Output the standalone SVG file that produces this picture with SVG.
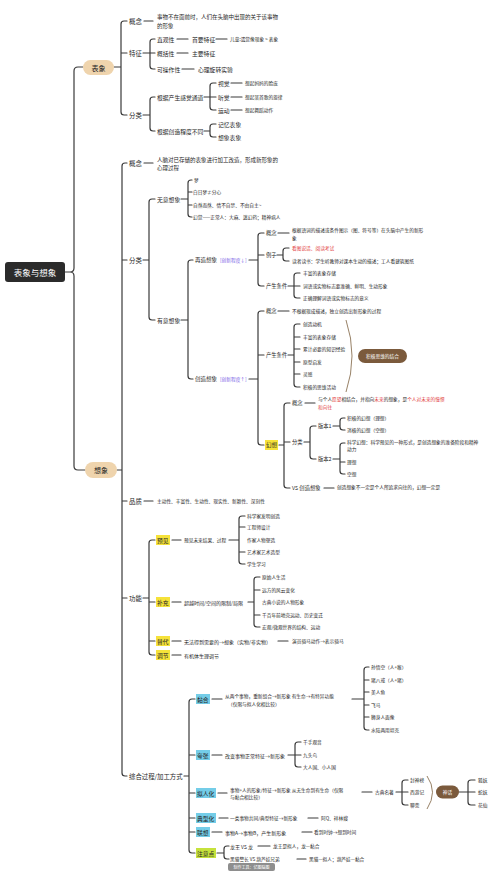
<svg xmlns="http://www.w3.org/2000/svg" width="503" height="877" viewBox="0 0 503 877">
<style>
text{font-family:"Noto Sans CJK SC","Noto Sans",sans-serif;fill:#262626;dominant-baseline:central}
.f64{font-size:6.4px}.f58{font-size:5.8px}.f55{font-size:5.5px}.f53{font-size:5.3px}.f50{font-size:5px}.f47{font-size:4.7px}
.red{fill:#e23b3b}.pur{fill:#7a62e6}.wt{fill:#fff}
.c{fill:none;stroke:#3a3a3a;stroke-width:1.2;stroke-linecap:round}
.cv{fill:none;stroke:#8b7355;stroke-width:0.9}
.yl{fill:#f6e23a}.bl{fill:#74cde8}.gr{fill:#c6e23c}
.pill{fill:#efd4ad}.br{fill:#7b5a3c}
</style>
<rect width="503" height="877" fill="#fff"/>
<g id="connectors">
<path class="c" d="M65 272 H70 Q74 272 74 268 V71 Q74 67 78 67 H83 M70 272 Q74 272 74 276 V466 Q74 470 78 470 H85"/>
<path class="c" d="M114 67 H121 M127 21 H124 Q121 21 121 24 V112 Q121 115 124 115 H127 M121 53 H127"/>
<path class="c" d="M144 21 H153 M143 53 H150 M155 39 H153 Q150 39 150 42 V66 Q150 69 153 69 H155 M150 53 H155"/>
<path class="c" d="M177 39 H188 M216 39 H227 M177 53 H188 M182 69 H194"/>
<path class="c" d="M143 115 H150 M155 97 H153 Q150 97 150 100 V128 Q150 131 153 131 H155"/>
<path class="c" d="M204 97 H210 M216 83 H213 Q210 83 210 86 V107 Q210 110 213 110 H216 M210 97 H216 M231 83 H242 M231 97 H242 M231 110 H242"/>
<path class="c" d="M204 131 H210 M216 124 H213 Q210 124 210 127 V134 Q210 137 213 137 H216"/>
<path class="c" d="M117 470 H122 M127 163 H125 Q122 163 122 166 V773 Q122 776 125 776 H127 M122 260 H127 M122 501 H127 M122 598 H127"/>
<path class="c" d="M144 163 H153 M143 260 H149 M155 199 H152 Q149 199 149 202 V317 Q149 320 152 320 H155"/>
<path class="c" d="M181 199 H188 M192 180 H191 Q188 180 188 183 V214 Q188 217 191 217 H192 M188 192 H192 M188 205 H192"/>
<path class="c" d="M181 320 H188 M193 260 H191 Q188 260 188 263 V376 Q188 379 191 379 H193"/>
<path class="c" d="M249 260 H258 M264 233 H261 Q258 233 258 236 V283 Q258 286 261 286 H264 M258 255 H264 M278 233 H289"/>
<path class="c" d="M277 255 H283 M289 248 H286 Q283 248 283 251 V258 Q283 261 286 261 H289"/>
<path class="c" d="M288 286 H294 M300 273 H297 Q294 273 294 276 V295 Q294 298 297 298 H300 M294 286 H300"/>
<path class="c" d="M249 379 H258 M264 311 H261 Q258 311 258 314 V442 Q258 445 261 445 H264 M258 355 H264 M278 311 H289"/>
<path class="c" d="M288 355 H294 M300 324 H297 Q294 324 294 327 V384 Q294 387 297 387 H300 M294 337 H300 M294 349 H300 M294 362 H300 M294 374 H300"/>
<path class="cv" d="M346 320 Q358 356 346 392"/>
<path class="c" d="M279 445 H284 M290 403 H287 Q284 403 284 406 V485 Q284 488 287 488 H290 M284 442 H290 M305 403 H315"/>
<path class="c" d="M304 442 H310 M316 426 H313 Q310 426 310 429 V456 Q310 459 313 459 H316"/>
<path class="c" d="M333 426 H340 M345 418 H343 Q340 418 340 421 V427 Q340 430 343 430 H345"/>
<path class="c" d="M333 459 H340 M345 443 H343 Q340 443 340 446 V471 Q340 474 343 474 H345 M340 462 H345"/>
<path class="c" d="M324 488 H334 M144 501 H153"/>
<path class="c" d="M143 598 H149 M155 540 H152 Q149 540 149 543 V652 Q149 655 152 655 H155 M149 602 H155 M149 641 H155"/>
<path class="c" d="M172 540 H181 M229 540 H239 M245 516 H242 Q239 516 239 519 V561 Q239 564 242 564 H245 M239 527 H245 M239 552 H245"/>
<path class="c" d="M172 602 H181 M248 602 H254 M260 577 H257 Q254 577 254 580 V624 Q254 627 257 627 H260 M254 590 H260 M254 615 H260"/>
<path class="c" d="M172 641 H181 M278 641 H288 M172 655 H181"/>
<path class="c" d="M184 776 H189 M195 699 H192 Q189 699 189 702 V850 Q189 853 192 853 H195 M189 755 H195 M189 793 H195 M189 818 H195 M189 832 H195"/>
<path class="c" d="M212 699 H222 M352 699 H364 M369 667 H367 Q364 667 364 670 V727 Q364 730 367 730 H369 M364 680 H369 M364 692 H369 M364 705 H369 M364 717 H369"/>
<path class="c" d="M212 755 H222 M288 755 H295 M301 742 H298 Q295 742 295 745 V764 Q295 767 298 767 H301 M295 755 H301"/>
<path class="c" d="M218 793 H227 M362 792 H372 M396 792 H402 M408 780 H405 Q402 780 402 783 V802 Q402 805 405 805 H408 M402 792 H408"/>
<path class="cv" d="M427 776 Q438 792 427 809"/>
<path class="c" d="M459 792 H468 M475 780 H471 Q468 780 468 783 V802 Q468 805 471 805 H475 M468 792 H475"/>
<path class="c" d="M219 818 H228 M308 818 H318 M212 832 H222 M302 832 H312"/>
<path class="c" d="M217 853 H224 M229 846 H227 Q224 846 224 849 V856 Q224 859 227 859 H229 M258 846 H270 M297 859 H306"/>
</g>
<g id="root"><rect x="5" y="262" width="60" height="20" rx="3" fill="#2b2b2b"/><text x="35" y="272" text-anchor="middle" class="wt" style="font-size:8.5px">表象与想象</text></g>
<g id="n-biaoxiang"><rect x="83" y="60" width="31" height="15" rx="7.5" class="pill"/><text x="98.5" y="67.5" text-anchor="middle" style="font-size:7px">表象</text></g>
<g id="n-bx-gainian"><text x="129" y="21" class="f64">概念</text><text x="157" y="17" class="f55">事物不在面前时，人们在头脑中出现的关于该事物</text><text x="157" y="25.5" class="f55">的形象</text></g>
<g id="n-bx-tezheng"><text x="129" y="53" class="f64">特征</text>
<text x="157" y="39" class="f58">直观性</text><text x="192" y="39" class="f58">首要特征</text><text x="230" y="39" class="f47">儿童:遗觉像现象 &gt; 表象</text>
<text x="157" y="53" class="f58">概括性</text><text x="192" y="53" class="f58">主要特征</text>
<text x="157" y="69" class="f58">可操作性</text><text x="198" y="69" class="f58">心理旋转实验</text></g>
<g id="n-bx-fenlei"><text x="129" y="115" class="f64">分类</text>
<text x="157" y="97" class="f58">根据产生感觉通道</text>
<text x="218" y="83" class="f58">视觉</text><text x="245" y="83" class="f47">想起妈妈的脸庞</text>
<text x="218" y="97" class="f58">听觉</text><text x="245" y="97" class="f47">想起某首歌的旋律</text>
<text x="218" y="110" class="f58">运动</text><text x="245" y="110" class="f47">想起舞蹈动作</text>
<text x="157" y="131" class="f58">根据创造程度不同</text>
<text x="218" y="124" class="f58">记忆表象</text><text x="218" y="137" class="f58">想象表象</text></g>
<g id="n-xiangxiang"><rect x="85" y="462" width="32" height="16" rx="8" class="pill"/><text x="101" y="470" text-anchor="middle" style="font-size:7px">想象</text></g>
<g id="n-xx-gainian"><text x="129" y="163" class="f64">概念</text><text x="157" y="159.5" class="f55">人脑对已存储的表象进行加工改造，形成新形象的</text><text x="157" y="168" class="f55">心理过程</text></g>
<g id="n-xx-fenlei"><text x="129" y="260" class="f64">分类</text></g>
<g id="n-wuyi"><text x="157" y="199" class="f58">无意想象</text>
<text x="194" y="180" class="f47">梦</text><text x="193" y="192" class="f47">白日梦≠分心</text><text x="193" y="205" class="f47">自然而然、情不自禁、不由自主~</text><text x="193" y="217" class="f47">幻觉——正常人：大麻、迷幻药；精神病人</text></g>
<g id="n-youyi"><text x="157" y="320" class="f58">有意想象</text></g>
<g id="n-zaizao"><text x="195" y="260" class="f55">再造想象</text><text x="220" y="260" class="f47 pur">[创新程度↓]</text>
<text x="266" y="233" class="f53">概念</text><text x="292" y="230" class="f47">根据语词的描述或条件图示（图、符号等）在头脑中产生的新形</text><text x="292" y="237.5" class="f47">象</text>
<text x="266" y="255" class="f53">例子</text><text x="292" y="248" class="f47 red">看图说话、阅读考试</text><text x="292" y="261" class="f47">读者读书：学生听教师对课本生动的描述；工人看建筑图纸</text>
<text x="266" y="286" class="f53">产生条件</text><text x="303" y="273" class="f47">丰富的表象存储</text><text x="303" y="286" class="f47">词语或实物标志要准确、鲜明、生动形象</text><text x="303" y="298" class="f47">正确理解词语或实物标志的意义</text></g>
<g id="n-chuangzao"><text x="195" y="379" class="f55">创造想象</text><text x="220" y="379" class="f47 pur">[创新程度↑]</text>
<text x="266" y="311" class="f53">概念</text><text x="292" y="311" class="f47">不根据现成描述，独立创造出新形象的过程</text>
<text x="266" y="355" class="f53">产生条件</text>
<text x="303" y="324" class="f47">创造动机</text><text x="303" y="337" class="f47">丰富的表象存储</text><text x="303" y="349" class="f47">累计必要的知识经验</text><text x="303" y="362" class="f47">原型启发</text><text x="303" y="374" class="f47">灵感</text><text x="303" y="387" class="f47">积极的思维活动</text>
<rect x="358" y="349" width="49" height="14" rx="7" class="br"/><text x="382.5" y="356" text-anchor="middle" class="f47 wt">积极思维的结合</text></g>
<g id="n-huanxiang"><rect x="265" y="440" width="13" height="10" class="yl"/><text x="266" y="445" class="f55">幻想</text>
<text x="292" y="403" class="f53">概念</text>
<text x="318" y="399" class="f47">与个人<tspan class="red">愿望</tspan>相结合，并指向<tspan class="red">未来</tspan>的想象，是<tspan class="red">个人对未来的憧憬</tspan></text><text x="318" y="406.5" class="f47 red">和向往</text>
<text x="292" y="442" class="f53">分类</text>
<text x="318" y="426" class="f53">版本1</text><text x="347" y="418" class="f47">积极的幻想（理想）</text><text x="347" y="430" class="f47">消极的幻想（空想）</text>
<text x="318" y="459" class="f53">版本2</text><text x="347" y="441.5" class="f47">科学幻想：科学预见的一种形式，是创造想象的准备阶段和精神</text><text x="347" y="448.5" class="f47">动力</text><text x="347" y="462" class="f47">理想</text><text x="347" y="474" class="f47">空想</text>
<text x="292" y="488" class="f53">VS 创造想象</text><text x="337" y="487" class="f47">创造想象不一定是个人所追求向往的，幻想一定是</text></g>
<g id="n-pinzhi"><text x="129" y="501" class="f64">品质</text><text x="157" y="501" class="f47">主动性、丰富性、生动性、现实性、新颖性、深刻性</text></g>
<g id="n-gongneng"><text x="129" y="598" class="f64">功能</text>
<rect x="156" y="535" width="14" height="10" class="yl"/><text x="157" y="540" class="f58">预见</text><text x="184" y="540" class="f47">预见未来结果、过程</text>
<text x="247" y="516" class="f47">科学家发明创造</text><text x="247" y="527" class="f47">工程师设计</text><text x="247" y="540" class="f47">作家人物塑造</text><text x="247" y="552" class="f47">艺术家艺术造型</text><text x="247" y="564" class="f47">学生学习</text>
<rect x="156" y="597" width="14" height="10" class="yl"/><text x="157" y="602" class="f58">补充</text><text x="184" y="602" class="f50">超越时间/空间的限制/局限</text>
<text x="262" y="577" class="f47">原始人生活</text><text x="262" y="590" class="f47">远方的风云变化</text><text x="262" y="602" class="f47">古典小说的人物形象</text><text x="262" y="615" class="f47">千百年前地壳运动、历史变迁</text><text x="262" y="627" class="f47">宏观/微观世界的结构、运动</text>
<rect x="156" y="636" width="14" height="10" class="yl"/><text x="157" y="641" class="f58">替代</text><text x="184" y="641" class="f50">无法得到需要的→想象（实物/非实物）</text><text x="292" y="641" class="f47">演员骑马动作→表示骑马</text>
<rect x="156" y="650" width="14" height="10" class="yl"/><text x="157" y="655" class="f58">调节</text><text x="184" y="655" class="f50">有机体生理调节</text></g>
<g id="n-zonghe"><text x="129" y="776" class="f64">综合过程/加工方式</text></g>
<g id="n-nianhe"><rect x="196" y="694" width="14" height="10" class="bl"/><text x="197" y="699" class="f58">黏合</text>
<text x="225" y="695.5" class="f47">从两个事物，重新组合→新形象  有生命→有特异功能</text><text x="228" y="703.5" class="f47">（仅限与拟人化相比较）</text>
<text x="371" y="667" class="f47">孙悟空（人+猴）</text><text x="371" y="680" class="f47">猪八戒（人+猪）</text><text x="371" y="692" class="f47">美人鱼</text><text x="371" y="705" class="f47">飞马</text><text x="371" y="717" class="f47">狮身人面像</text><text x="371" y="730" class="f47">水陆两用坦克</text></g>
<g id="n-kuazhang"><rect x="196" y="750" width="14" height="10" class="bl"/><text x="197" y="755" class="f58">夸张</text><text x="225" y="755" class="f50">改变事物正常特征→新形象</text>
<text x="303" y="742" class="f47">千手观音</text><text x="303" y="755" class="f47">九头鸟</text><text x="303" y="767" class="f47">大人国、小人国</text></g>
<g id="n-nirenhua"><rect x="196" y="788" width="20" height="10" class="bl"/><text x="197" y="793" class="f58">拟人化</text>
<text x="230" y="789.5" class="f47">事物+人的形象/特征→新形象  从无生命到有生命（仅限</text><text x="230" y="797" class="f47">与黏合相比较）</text>
<text x="375" y="792" class="f47">古典名著</text><text x="410" y="780" class="f47">封神榜</text><text x="410" y="792" class="f47">西游记</text><text x="410" y="805" class="f47">聊斋</text>
<rect x="436" y="785.5" width="23" height="13" rx="6.5" class="br"/><text x="447.5" y="792" text-anchor="middle" class="f47 wt">神话</text>
<text x="478" y="780" class="f47">狐妖</text><text x="478" y="792" class="f47">蛇妖</text><text x="478" y="805" class="f47">花仙</text></g>
<g id="n-dianxing"><rect x="196" y="813" width="20" height="10" class="bl"/><text x="197" y="818" class="f58">典型化</text><text x="230" y="818" class="f47">一类事物共同/典型特征→新形象</text><text x="321" y="818" class="f47">阿Q、祥林嫂</text></g>
<g id="n-lianxiang"><rect x="196" y="827" width="14" height="10" class="bl"/><text x="197" y="832" class="f58">联想</text><text x="225" y="832" class="f50">事物A→事物B，产生新形象</text><text x="314" y="832" class="f47">看到时钟→想到时间</text></g>
<g id="n-zhuyi"><rect x="196" y="848" width="20" height="10" class="gr"/><text x="197" y="853" class="f58">注意点</text>
<text x="230" y="846" class="f50">龙王 VS 龙</text><text x="273" y="846" class="f47">龙王是拟人，龙—黏合</text>
<text x="230" y="859" class="f47">黑猫警长 VS 葫芦娃兄弟</text><text x="309" y="859" class="f47">黑猫—拟人；葫芦娃—黏合</text></g>
<g id="watermark"><rect x="228" y="863" width="47" height="8" rx="2" fill="#8e8e8e"/><text x="251.5" y="867" text-anchor="middle" class="wt" style="font-size:4px">制作工具：亿图脑图</text></g>
</svg>
